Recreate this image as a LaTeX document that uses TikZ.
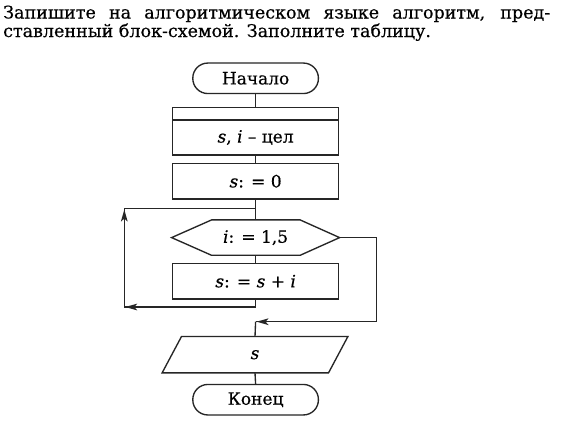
\documentclass[tikz,border=0pt]{standalone}
\usepackage{fontspec}
\setmainfont{DejaVu Serif}[FakeBold=0.5]
\usetikzlibrary{calc}
\begin{document}
\begin{tikzpicture}[x=1pt,y=1pt,
  line/.style={line width=1.35pt,draw=black!85},
  tipfill/.style={fill=black!85},
  term/.style={line,rounded corners=15pt,minimum width=125.6pt,minimum height=30.5pt,inner sep=0pt,font=\fontsize{17}{17}\selectfont},
  box/.style={line,minimum width=166pt,inner sep=0pt,font=\fontsize{17}{17}\selectfont},
  lbl/.style={inner sep=0pt,font=\fontsize{17}{17}\selectfont},
  head/.style={inner sep=0pt,anchor=base west,font=\fontsize{17.5}{17.5}\selectfont}]
\useasboundingbox (0,0) rectangle (567,-432);
\fill[white] (0,0) rectangle (567,-432);
% header
\node[head] (h1) at (3,-18.5) {\makebox[547pt][s]{Запишите на алгоритмическом языке алгоритм, пред-}};
\node[head] (h2) at (3,-37) {ставленный блок-схемой. Заполните таблицу.};
% blocks
\node[term] (start) at (255.6,-78.3) {Начало};
\node[box,minimum height=12.7pt] (decltop) at (255.6,-113.65) {};
\node[box,minimum height=35pt] (decl) at (255.6,-137.5) {\textit{s}, \textit{i} – цел};
\node[box,minimum height=35.7pt] (zero) at (255.6,-181.2) {\textit{s}: = 0};
\node[lbl,minimum width=167.6pt,minimum height=35pt] (hex) at (255.6,-237.6) {\textit{i}: = 1,5};
\draw[line] (hex.west) -- ($(hex.north west)+(40,0)$) -- ($(hex.north east)+(-39.5,0)$) -- (hex.east)
  -- ($(hex.south east)+(-39.5,0)$) -- ($(hex.south west)+(40,0)$) -- cycle;
\node[box,minimum height=35.7pt] (body) at (255.6,-281.2) {\textit{s}: = \textit{s} + \textit{i}};
\node[lbl,minimum width=166pt,minimum height=36pt] (outp) at (255,-354.7) {\textit{s}};
\draw[line] ($(outp.north west)+(9.7,0)$) -- ($(outp.north east)+(9.7,0)$) -- ($(outp.south east)+(-9.7,0)$) -- ($(outp.south west)+(-9.7,0)$) -- cycle;
\node[term] (fin) at (255.6,-399.7) {Конец};
% connectors
\coordinate (lb) at (255.6,-307);
\coordinate (ll) at (124.3,-307);
\coordinate (lt) at (124.3,-208.6);
\coordinate (lj) at (255.6,-208.6);
\coordinate (er) at (376.7,-237.6);
\coordinate (ed) at (376.7,-321.7);
\coordinate (ej) at (255.6,-321.7);
\draw[line] (start.south) -- (decltop.north);
\draw[line] (decl.south) -- (zero.north);
\draw[line] (zero.south) -- (hex.north);
\draw[line] (hex.south) -- (body.north);
\draw[line] (body.south) -- (lb) -- (ll) -- (lt) -- (lj);
\draw[line] (hex.east) -- (er) -- (ed) -- (ej);
\draw[line] (ej) -- (outp.north);
\draw[line] (outp.south) -- (fin.north);
% arrowheads
\fill[tipfill] ($(ll)+(1,0)$) -- ++(12,3.4) -- ++(-3,-3.4) -- ++(3,-3.4) -- cycle;
\fill[tipfill] ($(lt)+(0,-1)$) -- ++(3.4,-12) -- ++(-3.4,3) -- ++(-3.4,-3) -- cycle;
\fill[tipfill] ($(ej)+(1,0)$) -- ++(12,3.4) -- ++(-3,-3.4) -- ++(3,-3.4) -- cycle;
\end{tikzpicture}
\end{document}
